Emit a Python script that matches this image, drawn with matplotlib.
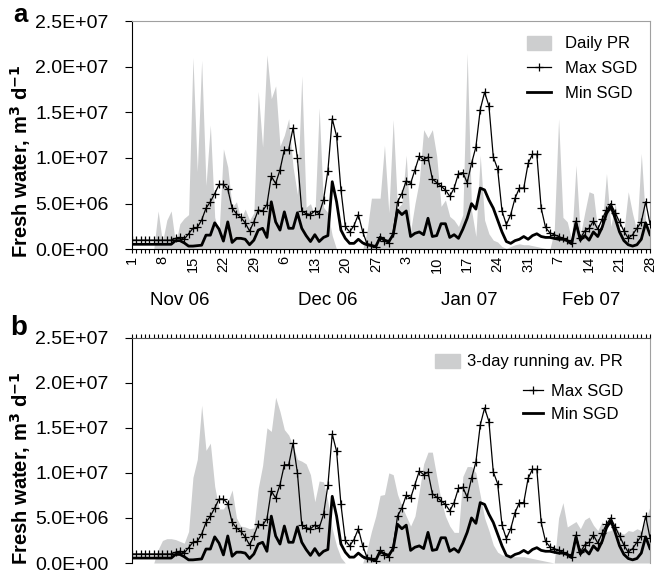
import numpy as np
import pandas as pd
import matplotlib
matplotlib.use("Agg")
import matplotlib.pyplot as plt
from matplotlib.ticker import FuncFormatter
from matplotlib.patches import Patch
from matplotlib.lines import Line2D

plt.rcParams['font.family'] = ['Liberation Sans', 'DejaVu Sans']

# =====================================================
# Data (values in 10^6 m3/d), 1 Nov 2006 - 28 Feb 2007
# =====================================================

dates = pd.date_range("2006-11-01", "2007-02-28", freq="D")
days = np.arange(1, len(dates) + 1)

daily_pr = [
    0, 0, 0, 0, 0, 0, 4.2, 0.8, 3.2, 4.2,
    0.6, 2.8, 3.4, 3.8, 21.0, 8.5, 20.7, 7.0, 13.6, 3.5,
    1.8, 11.0, 9.0, 4.6, 5.2, 3.3, 4.4, 3.2, 4.0, 17.3,
    11.2, 21.3, 16.5, 17.9, 11.3, 12.5, 14.3, 9.0, 6.0, 19.0,
    4.6, 5.0, 3.6, 15.5, 4.6, 4.0, 1.5, 0, 0, 0,
    0, 0, 0, 0, 2.0, 5.6, 5.6, 5.6, 11.4, 4.0,
    14.2, 4.5, 5.0, 10.3, 2.0, 5.0, 7.5, 13.1, 12.2, 13.1,
    10.2, 4.7, 5.4, 3.6, 3.2, 2.5, 3.8, 21.5, 4.3, 1.4,
    10.3, 3.2, 1.7, 1.0, 0.8, 0.3, 0.1, 0.3, 0.5, 0.6,
    0.5, 0.5, 0.4, 0.3, 0.2, 0.1, 0, 2.0, 14.3, 3.5,
    3.0, 1.0, 9.2, 1.5, 4.0, 6.3, 6.1, 2.0, 2.5, 8.3,
    2.5, 5.0, 2.0, 2.0, 6.3, 3.9, 2.0, 10.5, 3.0, 1.5,
]

pr_3day = [
    0, 0, 0, 0, 0, 0, 1.5, 2.5, 2.7, 2.7,
    2.6, 2.4, 2.2, 3.5, 9.5, 11.5, 17.5, 12.5, 13.3, 8.5,
    6.0, 6.0, 6.8, 8.1, 5.0, 4.1, 4.0, 3.8, 3.9, 8.3,
    10.8, 15.0, 14.6, 18.4, 16.8, 14.8, 14.2, 13.0, 11.5, 11.3,
    11.0, 9.8, 6.8, 9.1, 9.0, 6.8, 3.8, 1.9, 0.6, 0,
    0, 0, 0, 0, 1.5, 3.5, 5.2, 7.5, 7.6, 10.0,
    9.8, 7.6, 6.3, 5.2, 4.1, 5.2, 8.0, 11.0, 12.3, 12.3,
    9.6, 7.0, 5.2, 4.1, 3.4, 3.4, 9.6, 10.7, 10.7, 10.0,
    7.5, 5.0, 3.6, 2.0, 1.2, 0.9, 0.8, 0.7, 0.7, 0.7,
    0.7, 0.6, 0.5, 0.4, 0.3, 0.2, 0.1, 0, 5.0, 6.7,
    4.0, 4.3, 4.6, 3.8, 4.8, 5.1, 4.2, 3.6, 4.6, 3.5,
    3.6, 4.2, 3.4, 3.2, 3.6, 3.5, 3.8, 3.6, 4.8, 6.3,
]

max_sgd = [
    1.0, 1.0, 1.0, 1.0, 1.0, 1.0, 1.0, 1.0, 1.0, 1.0,
    1.2, 1.3, 1.1, 1.7, 2.3, 2.4, 3.2, 4.5, 5.2, 6.1,
    7.1, 7.1, 6.6, 4.5, 3.9, 3.5, 2.9, 2.0, 3.0, 4.3,
    4.2, 4.9, 8.0, 7.2, 8.7, 10.9, 10.9, 13.3, 10.0, 4.2,
    3.9, 3.8, 4.2, 3.9, 5.4, 8.6, 14.3, 12.4, 6.5, 2.5,
    1.9, 2.6, 3.8, 1.9, 0.6, 0.5, 0.2, 1.4, 0.9, 0.7,
    1.8, 5.2, 6.1, 7.5, 7.2, 8.7, 10.2, 9.8, 10.1, 7.7,
    7.3, 6.9, 6.5, 5.8, 6.7, 8.3, 8.4, 7.3, 9.4, 11.2,
    15.3, 17.2, 15.7, 10.1, 8.8, 4.2, 2.7, 3.8, 5.6, 6.7,
    6.7, 9.4, 10.4, 10.4, 4.5, 2.4, 1.8, 1.6, 1.4, 1.2,
    1.0, 0.7, 3.1, 1.2, 2.0, 2.3, 3.1, 2.2, 3.3, 4.3,
    5.0, 4.0, 3.0, 2.0, 1.2, 1.6, 2.3, 3.0, 5.2, 2.8,
]

min_sgd = [
    0.55, 0.55, 0.55, 0.55, 0.55, 0.55, 0.55, 0.55, 0.55, 0.55,
    0.95, 0.95, 0.7, 0.35, 0.35, 0.4, 0.45, 1.55, 1.55, 2.9,
    2.2, 0.9, 3.0, 0.75, 1.2, 1.2, 1.1, 0.5, 1.0, 2.1,
    2.3, 1.3, 5.2, 3.0, 2.1, 4.1, 2.3, 2.3, 4.0, 2.3,
    1.5, 0.85, 1.6, 0.85, 1.3, 1.5, 7.4, 5.2, 2.1, 1.2,
    0.65, 0.65, 1.1, 0.7, 0.5, 0.4, 0.3, 1.3, 1.0, 0.85,
    1.6, 4.3, 3.8, 4.2, 1.4, 1.75, 1.9, 1.6, 3.4, 1.4,
    1.5, 2.8, 2.8, 1.3, 1.6, 1.2, 2.2, 3.4, 5.0, 4.4,
    6.7, 6.5, 5.4, 4.5, 3.2, 1.9, 0.85, 0.65, 0.95, 1.1,
    1.4, 1.1, 1.5, 1.7, 1.4, 1.3, 1.3, 1.2, 1.1, 1.1,
    0.95, 0.6, 2.9, 1.0, 1.5, 1.0, 1.9, 1.4, 2.4, 3.9,
    4.7, 3.4, 1.9, 0.95, 0.5, 0.35, 0.5, 1.1, 2.9, 1.6,
]

month_labels = ["Nov 06", "Dec 06", "Jan 07", "Feb 07"]
month_pos = [12, 46, 78.5, 106.5]

SCALE = 1e6
GRAY = "#cdcecf"

# =====================================================
# Figure
# =====================================================

W, H = 656, 572
fig = plt.figure(figsize=(W / 100, H / 100), dpi=100)

ax1 = fig.add_axes([132 / W, 1 - 249.3 / H, 518 / W, 228.3 / H])
ax2 = fig.add_axes([132 / W, 1 - 563 / H, 518 / W, 225.3 / H])

sci = FuncFormatter(lambda v, p: f"{v:.1E}")
day_labels = [str(d.day) if i % 7 == 0 else "" for i, d in enumerate(dates)]


def draw_series(ax, pr):
    ax.fill_between(days, 0, np.array(pr) * SCALE, color=GRAY, lw=0, zorder=1)
    ax.plot(days, np.array(max_sgd) * SCALE, color="black", lw=0.9,
            marker="+", ms=6, mew=0.9, zorder=3)
    ax.plot(days, np.array(min_sgd) * SCALE, color="black", lw=2.0, zorder=4)
    ax.set_xlim(1, 120)
    ax.set_ylim(0, 2.5e7)
    ax.set_yticks(np.arange(0, 2.51e7, 5e6))
    ax.yaxis.set_major_formatter(sci)
    ax.tick_params(axis="y", direction="out", length=5, width=0.8,
                   labelsize=14, pad=12)
    ax.set_xticks(days)
    ax.spines["left"].set_color("black")
    ax.spines["right"].set_color("#a0a0a0")


draw_series(ax1, daily_pr)
draw_series(ax2, pr_3day)

# ---------------- top panel axis ----------------
ax1.set_xticklabels(day_labels)
ax1.tick_params(axis="x", direction="out", length=3, width=0.8,
                labelsize=10.5, labelrotation=90, pad=2)
ax1.spines["top"].set_color("#a0a0a0")
ax1.spines["bottom"].set_color("black")

for lab, pos in zip(month_labels, month_pos):
    ax1.text(pos, -0.225, lab, transform=ax1.get_xaxis_transform(),
             ha="center", va="center", fontsize=13.5)

# ---------------- bottom panel axis ----------------
ax2.xaxis.tick_top()
ax2.tick_params(axis="x", direction="out", length=3, width=0.8,
                labeltop=False, labelbottom=False)
ax2.spines["bottom"].set_visible(False)
ax2.spines["top"].set_color("#555555")

# =====================================================
# Legends
# =====================================================

max_handle = Line2D([], [], color="black", lw=0.9, marker="+", ms=6, mew=0.9)
min_handle = Line2D([], [], color="black", lw=2.0)

ax1.legend([Patch(color=GRAY), max_handle, min_handle],
           ["Daily PR", "Max SGD", "Min SGD"],
           loc="upper left", bbox_to_anchor=(0.747, 0.972), frameon=False,
           fontsize=12, borderpad=0, handlelength=1.45, handleheight=0.9,
           handletextpad=0.8, labelspacing=0.55, numpoints=1)

leg_pr = ax2.legend([Patch(color=GRAY)], ["3-day running av. PR"],
                    loc="upper left", bbox_to_anchor=(0.5685, 0.966),
                    frameon=False, fontsize=12, borderpad=0,
                    handlelength=1.5, handleheight=0.9, handletextpad=0.45)
ax2.add_artist(leg_pr)
ax2.legend([max_handle, min_handle], ["Max SGD", "Min SGD"],
           loc="upper left", bbox_to_anchor=(0.738, 0.832), frameon=False,
           fontsize=12, borderpad=0, handlelength=1.2, handletextpad=0.5,
           labelspacing=0.5, numpoints=1)

# =====================================================
# Labels
# =====================================================

ylab = "Fresh water, m$^{\\mathbf{3}}$ d$^{\\mathbf{-1}}$"
fig.text(21 / W, 1 - 161 / H, ylab, rotation=90, ha="center", va="center",
         fontsize=14.5, fontweight="bold")
fig.text(21 / W, 1 - 468 / H, ylab, rotation=90, ha="center", va="center",
         fontsize=14.5, fontweight="bold")

fig.text(20 / W, 1 - 22 / H, "a", ha="center", va="baseline",
         fontsize=18.5, fontweight="bold")
fig.text(19 / W, 1 - 335 / H, "b", ha="center", va="baseline",
         fontsize=20, fontweight="bold")

plt.savefig("out.png", dpi=100)
